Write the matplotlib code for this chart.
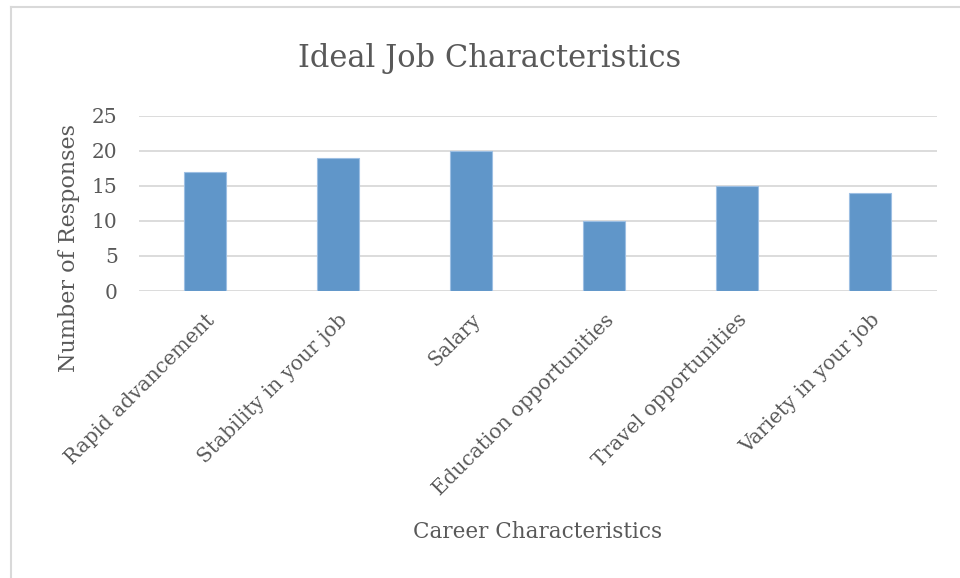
import matplotlib
matplotlib.use("Agg")
import matplotlib.pyplot as plt
from matplotlib.lines import Line2D

# data
categories = ["Rapid advancement", "Stability in your job", "Salary",
              "Education opportunities", "Travel opportunities", "Variety in your job"]
responses = [17, 19, 20, 10, 15, 14]
yticks = [0, 5, 10, 15, 20, 25]

txt = "#595959"
plt.rcParams["font.family"] = ["DejaVu Serif"]

fig = plt.figure(figsize=(9.6, 5.78), dpi=100)
ax = fig.add_axes([138.5 / 960, 1 - 291 / 578, 798 / 960, 175.5 / 578])

x = range(len(categories))
ax.bar(x, responses, width=0.31, color="#6096C9", edgecolor="#9DBFE3", linewidth=0.8, zorder=3)

ax.set_xlim(-0.5, len(categories) - 0.5)
ax.set_ylim(0, 25)
ax.set_yticks(yticks)
ax.set_xticks(list(x))
ax.set_xticklabels(categories, rotation=45, ha="right", va="top", rotation_mode="anchor")
ax.tick_params(axis="both", length=0, colors=txt, labelsize=14.5)
ax.tick_params(axis="y", pad=15)
ax.tick_params(axis="x", pad=14)
ax.grid(axis="y", color="#D9D9D9", linewidth=1.3, zorder=0)
for s in ax.spines.values():
    s.set_visible(False)

ax.set_ylabel("Number of Responses", fontsize=16, color=txt)
ax.yaxis.set_label_coords(-0.073, 0.245)
ax.set_xlabel("Career Characteristics", fontsize=15.5, color=txt, labelpad=16)
fig.text(490 / 960, 1 - 58 / 578, "Ideal Job Characteristics", fontsize=22, color=txt,
         ha="center", va="center")

# outer chart border (top and left edges visible)
fig.add_artist(Line2D([11 / 960, 1], [1 - 7 / 578, 1 - 7 / 578], color="#D9D9D9", lw=1.5))
fig.add_artist(Line2D([11 / 960, 11 / 960], [0, 1 - 7 / 578], color="#D9D9D9", lw=1.5))

fig.savefig("out.png", dpi=100, facecolor="white")
